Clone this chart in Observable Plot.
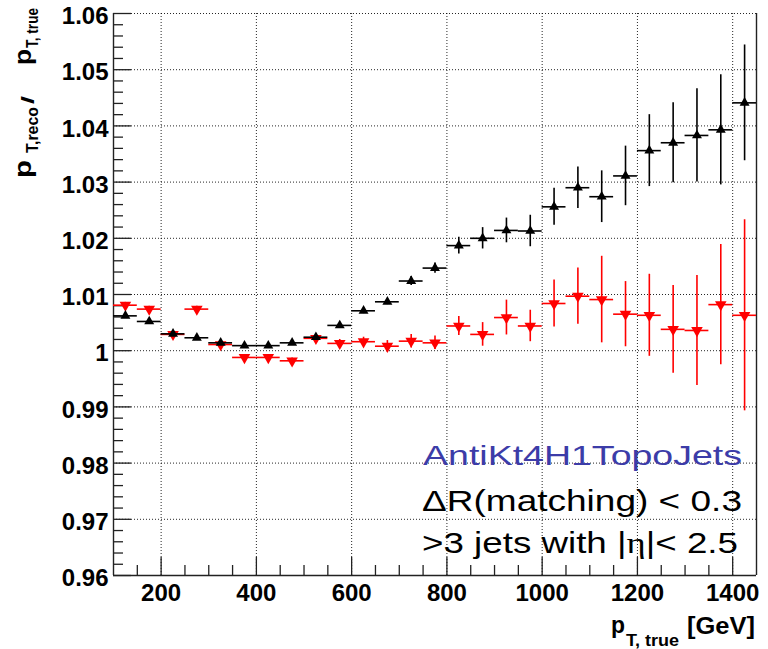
<!DOCTYPE html>
<html>
<head>
<meta charset="utf-8">
<script src="https://cdn.jsdelivr.net/npm/d3@7"></script>
<script src="https://cdn.jsdelivr.net/npm/@observablehq/plot@0.6"></script>
<style>
  html, body { margin: 0; padding: 0; background: #fff; }
  svg { display: block; }
</style>
</head>
<body>
<div id="chart"></div>
<script>
// ---- data ----
const binCenters = [125,175,225,275,325,375,425,475,525,575,625,675,725,775,825,875,925,975,1025,1075,1125,1175,1225,1275,1325,1375,1425];
const binHalfWidth = 25;
const blackValues = [1.0062,1.0052,1.0030,1.0023,1.0014,1.0009,1.0009,1.0014,1.0024,1.0045,1.0071,1.0087,1.0124,1.0147,1.0187,1.0200,1.0214,1.0213,1.0256,1.0290,1.0274,1.0311,1.0356,1.0370,1.0383,1.0393,1.0441];
const blackErrors = [0.0004,0.0004,0.0003,0.0003,0.0003,0.0003,0.0003,0.0003,0.0004,0.0004,0.0005,0.0005,0.0008,0.0009,0.0015,0.0019,0.0022,0.0028,0.0033,0.0037,0.0046,0.0053,0.0064,0.0071,0.0083,0.0098,0.0103];
const redValues = [1.0081,1.0074,1.0029,1.0074,1.0011,0.9988,0.9988,0.9982,1.0022,1.0013,1.0016,1.0008,1.0017,1.0014,1.0044,1.0029,1.0059,1.0044,1.0084,1.0097,1.0091,1.0065,1.0063,1.0038,1.0036,1.0082,1.0063];
const redErrors = [0.0005,0.0005,0.0005,0.0005,0.0005,0.0005,0.0005,0.0005,0.0006,0.0007,0.0008,0.0010,0.0012,0.0012,0.0017,0.0021,0.0031,0.0028,0.0042,0.0050,0.0077,0.0058,0.0073,0.0078,0.0098,0.0107,0.0170];

const xTicks = [200,400,600,800,1000,1200,1400];
const xTickLabels = ["200","400","600","800","1000","1200","1400"];
const yTicks = [0.96,0.97,0.98,0.99,1.00,1.01,1.02,1.03,1.04,1.05,1.06];
const yTickLabels = ["0.96","0.97","0.98","0.99","1","1.01","1.02","1.03","1.04","1.05","1.06"];
const xDomain = [100, 1450];
const yDomain = [0.96, 1.06];

const annotationLines = ["AntiKt4H1TopoJets", "\u0394R(matching) < 0.3"];

// ---- build tables ----
const black = binCenters.map((c, i) => ({c, v: blackValues[i], e: blackErrors[i]}));
const red = binCenters.map((c, i) => ({c, v: redValues[i], e: redErrors[i]}));

const xMinor = d3.range(150, 1450, 50).filter(d => !xTicks.includes(d));
const yMinor = d3.range(481, 530).filter(k => k % 5 !== 0).map(k => k * 0.002);

const W = 768, H = 649;
const mL = 113, mR = 12, mT = 13, mB = 74;
const frameW = W - mL - mR, frameH = H - mT - mB;
const majorLen = 18, minorLen = 10;
const axisColor = "#222";
const font = "'Liberation Sans', Arial, Helvetica, sans-serif";

const svg = Plot.plot({
  width: W, height: H,
  marginLeft: mL, marginRight: mR, marginTop: mT, marginBottom: mB,
  style: {fontFamily: font, background: "#fff", overflow: "visible"},
  x: {domain: xDomain},
  y: {domain: yDomain},
  marks: [
    // grid
    Plot.ruleX(xTicks, {stroke: "#000", strokeWidth: 1, strokeDasharray: "1,2", strokeOpacity: 0.85}),
    Plot.ruleY(yTicks.filter(d => d > 0.96), {stroke: "#000", strokeWidth: 1, strokeDasharray: "1,2", strokeOpacity: 0.85}),
    // frame lines
    Plot.ruleX([xDomain[0], xDomain[1]], {stroke: axisColor, strokeWidth: 1.4}),
    Plot.ruleY([yDomain[0]], {stroke: axisColor, strokeWidth: 1.4}),
    // ticks (inward)
    Plot.ruleX(xTicks, {insetTop: frameH - majorLen, stroke: axisColor, strokeWidth: 1.3}),
    Plot.ruleX(xMinor, {insetTop: frameH - minorLen, stroke: axisColor, strokeWidth: 1.3}),
    Plot.ruleY(yTicks, {insetRight: frameW - majorLen, stroke: axisColor, strokeWidth: 1.3}),
    Plot.ruleY(yMinor, {insetRight: frameW - minorLen, stroke: axisColor, strokeWidth: 1.3}),
    // axes labels
    Plot.axisX(xTicks, {tickSize: 0, tickPadding: 8, tickFormat: d => xTickLabels[xTicks.indexOf(d)], fontSize: 24, fontWeight: "bold", fontFamily: font, label: null}),
    Plot.axisY(yTicks, {tickSize: 0, tickPadding: 5, dy: 3, tickFormat: d => yTickLabels[yTicks.indexOf(d)], fontSize: 24, fontWeight: "bold", fontFamily: font, label: null}),
    // red series
    Plot.ruleY(red, {y: "v", x1: d => d.c - binHalfWidth, x2: d => d.c + binHalfWidth, stroke: "#ff0000", strokeWidth: 1.6}),
    Plot.ruleX(red, {x: "c", y1: d => d.v - d.e, y2: d => d.v + d.e, stroke: "#ff0000", strokeWidth: 1.6}),
    Plot.dot(red, {x: "c", y: "v", symbol: "triangle", rotate: 180, r: 4.3, fill: "#ff0000", stroke: "none"}),
    // black series
    Plot.ruleY(black, {y: "v", x1: d => d.c - binHalfWidth, x2: d => d.c + binHalfWidth, stroke: "#000", strokeWidth: 1.6}),
    Plot.ruleX(black, {x: "c", y1: d => d.v - d.e, y2: d => d.v + d.e, stroke: "#000", strokeWidth: 1.6}),
    Plot.dot(black, {x: "c", y: "v", symbol: "triangle", r: 3.7, fill: "#000", stroke: "none"})
  ]
});

const s = d3.select(svg);
function addText({x, y, text, size, weight = "normal", length, rotate = 0, fill = "#000", family = font}) {
  const t = s.append("text")
    .attr("transform", `translate(${x},${y})` + (rotate ? ` rotate(${rotate})` : ""))
    .attr("text-anchor", "start")
    .attr("font-family", family)
    .attr("font-size", size)
    .attr("font-weight", weight)
    .attr("fill", fill)
    .text(text);
  if (length) t.attr("textLength", length).attr("lengthAdjust", "spacingAndGlyphs");
  return t;
}

// y axis title: p_{T,reco} / p_{T, true}
const yo = 6;
addText({x: 31, y: 172 + yo, text: "p", size: 24, weight: "bold", length: 18, rotate: -90});
addText({x: 37.5, y: 147 + yo, text: "T,reco", size: 16, weight: "bold", length: 46, rotate: -90});
addText({x: 34, y: 98 + yo, text: "/", size: 18, weight: "bold", length: 8, rotate: -90});
addText({x: 31, y: 59 + yo, text: "p", size: 24, weight: "bold", length: 16, rotate: -90});
addText({x: 37.5, y: 42 + yo, text: "T, true", size: 16, weight: "bold", length: 40, rotate: -90});

// x axis title: p_{T, true} [GeV]
addText({x: 611, y: 633, text: "p", size: 24, weight: "bold", length: 14});
addText({x: 626, y: 646, text: "T, true", size: 16, weight: "bold", length: 53});
addText({x: 687, y: 634, text: "[GeV]", size: 24, weight: "bold", length: 68});

// annotation
addText({x: 423, y: 465, text: annotationLines[0], size: 28, length: 319, fill: "#3c3ca8"});
addText({x: 422, y: 511, text: annotationLines[1], size: 29, length: 320});
const l3 = s.append("text")
  .attr("transform", "translate(422,553)")
  .attr("text-anchor", "start")
  .attr("font-family", font).attr("font-size", 29).attr("fill", "#000")
  .attr("textLength", 316).attr("lengthAdjust", "spacingAndGlyphs");
l3.append("tspan").text(">3 jets with |");
l3.append("tspan").attr("font-family", "'Liberation Serif', 'DejaVu Serif', serif").text("\u03B7");
l3.append("tspan").text("|< 2.5");

document.getElementById("chart").appendChild(svg);
</script>
</body>
</html>
